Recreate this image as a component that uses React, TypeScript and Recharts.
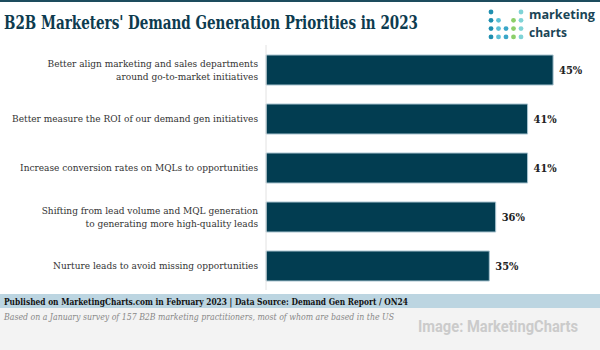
import { Bar, BarChart, LabelList, XAxis, YAxis } from "recharts";

const priorities = [
  "Better align marketing and sales departments\naround go-to-market initiatives",
  "Better measure the ROI of our demand gen initiatives",
  "Increase conversion rates on MQLs to opportunities",
  "Shifting from lead volume and MQL generation\nto generating more high-quality leads",
  "Nurture leads to avoid missing opportunities"
];
const shares = [45, 41, 41, 36, 35];

const chartData = priorities.map((name, i) => ({ name, value: shares[i] }));

const BAR = "#023d51";
const SERIF = "'DejaVu Serif', serif";
const NARROW = "'DejaVu Serif Condensed', 'DejaVu Serif', serif";

function PriorityTick({ x, y, payload }: any) {
  const lines = String(payload.value).split("\n");
  const start = -((lines.length - 1) * 13) / 2;
  return (
    <text
      x={x}
      y={y}
      textAnchor="end"
      fontFamily={NARROW}
      fontStretch="condensed"
      fontSize={10}
      fill="#333"
    >
      {lines.map((line, i) => (
        <tspan key={i} x={x} dy={i === 0 ? start + 3.5 : 13}>
          {line}
        </tspan>
      ))}
    </text>
  );
}

const logoDots = [
  [0, 0, "#1f8fb0"],
  [4, 0, "#7fd3d6"],
  [0, 1, "#1f8fb0"],
  [1, 1, "#5bc0d6"],
  [3, 1, "#8ccf6a"],
  [4, 1, "#7fd3d6"],
  [0, 2, "#1f8fb0"],
  [1, 2, "#5bc0d6"],
  [2, 2, "#3aa6c8"],
  [3, 2, "#8ccf6a"],
  [4, 2, "#7fd3d6"],
  [0, 3, "#1f8fb0"],
  [1, 3, "#5bc0d6"],
  [2, 3, "#3aa6c8"],
  [3, 3, "#8ccf6a"],
  [4, 3, "#7fd3d6"]
] as const;

export default function App() {
  return (
    <div
      style={{
        position: "fixed",
        top: 0,
        left: 0,
        width: 600,
        height: 350,
        background: "#fff",
        overflow: "hidden"
      }}
    >
      <svg
        width={600}
        height={350}
        style={{ position: "absolute", top: 0, left: 0 }}
      >
        <rect x={0} y={0} width={600} height={2} fill="#1d4c5e" />
        <text
          x={4}
          y={29}
          fontFamily={SERIF}
          fontWeight="bold"
          fontSize={19}
          fill="#0d3b4f"
          textLength={414}
          lengthAdjust="spacingAndGlyphs"
        >
          B2B Marketers' Demand Generation Priorities in 2023
        </text>
        {logoDots.map(([c, r, col], i) => (
          <circle key={i} cx={491 + c * 7.5} cy={12 + r * 8.3} r={2.4} fill={col} />
        ))}
        <text
          x={529}
          y={19}
          fontFamily="'Open Sans', sans-serif"
          fontWeight="bold"
          fontSize={12}
          fill="#1a4556"
          textLength={66}
          lengthAdjust="spacingAndGlyphs"
        >
          marketing
        </text>
        <text
          x={529}
          y={37}
          fontFamily="'Open Sans', sans-serif"
          fontWeight="bold"
          fontSize={12}
          fill="#1a4556"
        >
          charts
        </text>

        <rect x={0} y={294} width={600} height={14} fill="#bcd5e1" />
        <text
          x={4}
          y={304.5}
          fontFamily={SERIF}
          fontWeight="bold"
          fontSize={9.5}
          fill="#111"
          textLength={404}
          lengthAdjust="spacingAndGlyphs"
        >
          Published on MarketingCharts.com in February 2023 | Data Source: Demand Gen Report / ON24
        </text>
        <rect x={0} y={308} width={600} height={42} fill="#f3f3f3" />
        <text
          x={4}
          y={320}
          fontFamily={SERIF}
          fontStyle="italic"
          fontSize={8.5}
          fill="#888"
          textLength={390}
          lengthAdjust="spacingAndGlyphs"
        >
          Based on a January survey of 157 B2B marketing practitioners, most of whom are based in the US
        </text>
        <text
          x={418}
          y={332}
          fontFamily="Roboto, sans-serif"
          fontWeight="bold"
          fontSize={16}
          fill="#cbcbcb"
          textLength={160}
          lengthAdjust="spacingAndGlyphs"
        >
          Image: MarketingCharts
        </text>
      </svg>

      <div style={{ position: "absolute", top: 0, left: 0 }}>
        <BarChart
          width={600}
          height={300}
          data={chartData}
          layout="vertical"
          margin={{ top: 45, right: 15, bottom: 10, left: 0 }}
        >
          <XAxis type="number" domain={[0, 50]} hide />
          <YAxis
            type="category"
            dataKey="name"
            width={266}
            axisLine={{ stroke: "#e2e2e2" }}
            tickLine={false}
            tick={<PriorityTick />}
            interval={0}
          />
          <Bar
            dataKey="value"
            fill={BAR}
            stroke="#a9c4d0"
            strokeWidth={1}
            barSize={30}
            isAnimationActive={false}
          >
            <LabelList
              dataKey="value"
              position="right"
              offset={6}
              formatter={(v: any) => `${v}%`}
              style={{
                fontFamily: NARROW,
                fontStretch: "condensed",
                fontWeight: "bold",
                fontSize: 11,
                fill: "#222"
              }}
            />
          </Bar>
        </BarChart>
      </div>
    </div>
  );
}
